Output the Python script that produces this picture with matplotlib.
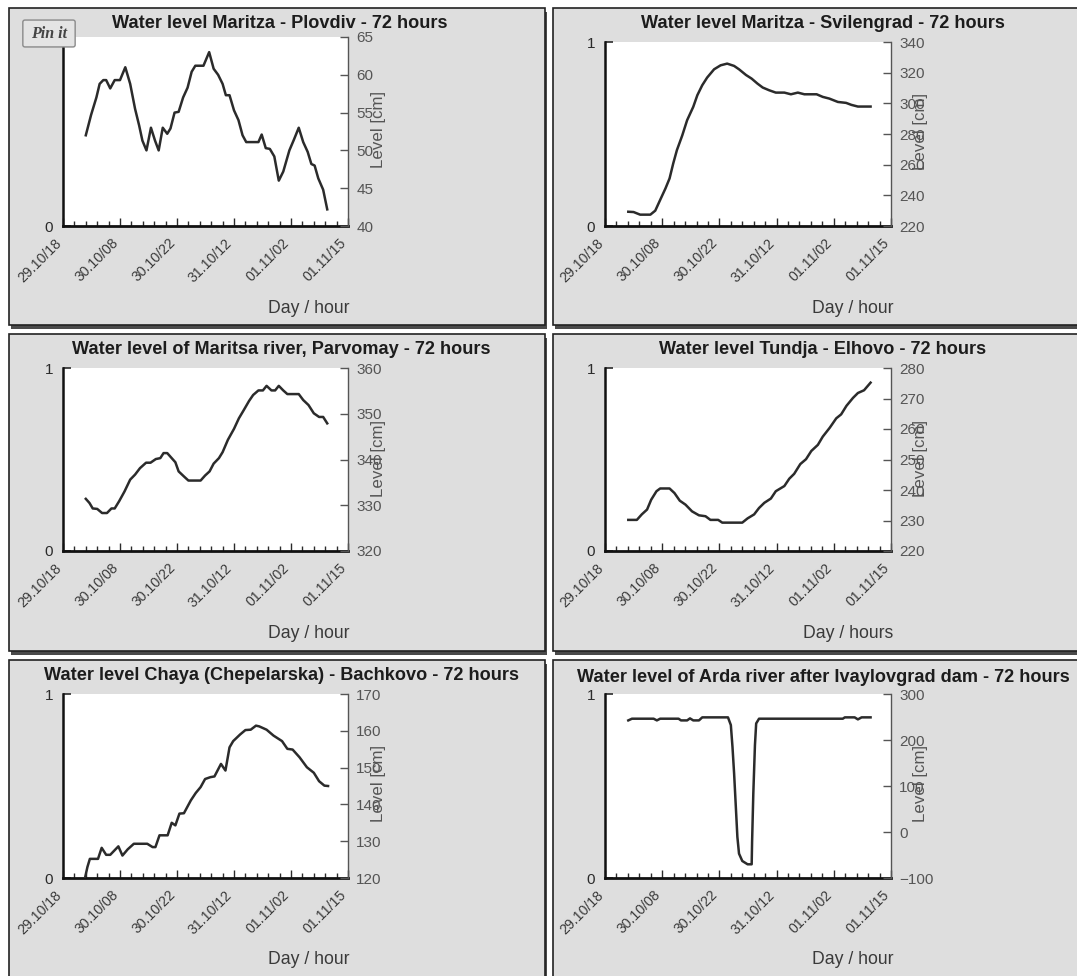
import matplotlib
matplotlib.use("Agg")
import matplotlib.pyplot as plt
from matplotlib.patches import Rectangle, FancyBboxPatch
from matplotlib.ticker import MultipleLocator
from matplotlib.transforms import ScaledTranslation

plt.rcParams['font.family'] = ['Liberation Sans', 'DejaVu Sans']

W = 1077
H = 976

############################################## Data (hours since 29.10/18, level in cm)
plovdiv_h = [5.6, 6.9, 8.2, 9.0, 9.9, 10.6, 11.6, 12.7, 14, 15.3, 16.5, 17.7, 18.7, 19.5, 20.5, 21.6, 22.6, 23.5,
             24.5, 25.6, 26.4, 27.4, 28.4, 29.5, 30.6, 31.6, 32.5, 34.5, 35.9, 37, 38.1, 39.2, 40, 40.9, 42, 43.1,
             44.1, 45, 48, 48.8, 49.8, 50.8, 51.9, 53, 54.1, 55.6, 56.7, 57.9, 59, 60.1, 61, 61.8, 62.7, 63.9, 64.9]
plovdiv_v = [52, 54.7, 57, 58.8, 59.3, 59.3, 58.2, 59.3, 59.3, 61, 58.8, 55.5, 53.3, 51.3, 50, 53, 51.3, 50,
             53, 52.2, 52.9, 55, 55.1, 57, 58.3, 60.4, 61.2, 61.2, 63, 60.8, 60, 58.8, 57.3, 57.3, 55.3, 54,
             52, 51.1, 51.1, 52.1, 50.3, 50.2, 49.2, 46, 47.2, 50, 51.4, 53, 51.1, 49.8, 48.2, 48, 46.3, 44.8, 42.2]

svilengrad_h = [5.7, 7, 8.6, 11.1, 12.3, 13.5, 14.8, 15.8, 16.7, 17.6, 18.9, 20.1, 21.6, 22.6, 23.8, 25, 26.7, 28.3,
                29.9, 31.6, 32.8, 34.5, 35.9, 37.3, 38.6, 40.2, 41.8, 43.9, 45.5, 47.2, 48.8, 51.8, 53.3, 54.9, 57,
                59, 60.3, 61.9, 65]
svilengrad_v = [229.3, 229.1, 227.4, 227.4, 230, 237, 244.5, 251, 260.8, 269.5, 279, 289, 297.7, 305.3, 311.8, 316.8,
                322.2, 324.8, 325.9, 324.4, 322.2, 318.5, 316.1, 312.9, 310.3, 308.5, 307, 307, 305.9, 307, 305.9,
                305.9, 304.2, 303.1, 300.9, 300.3, 299, 297.9, 297.9]

parvomay_h = [5.6, 6.5, 7.3, 8.4, 9.6, 10.8, 11.9, 12.7, 13.8, 15.1, 16.5, 17.7, 18.9, 20.4, 21.5, 22.8, 23.9, 24.7,
              25.6, 26.7, 27.6, 28.4, 29.7, 30.8, 33.8, 34.9, 36, 37, 38.3, 39.2, 40.5, 42, 43.2, 44.4, 45.7, 46.7,
              48, 49.1, 50, 51.2, 52.1, 53, 54.1, 55.1, 57.9, 59, 60.3, 61.6, 62.9, 63.9, 64.9]
parvomay_v = [331.4, 330.5, 329.3, 329.2, 328.3, 328.3, 329.3, 329.3, 330.9, 333, 335.6, 336.7, 338.1, 339.3, 339.3,
              340.1, 340.3, 341.4, 341.4, 340.3, 339.4, 337.4, 336.3, 335.4, 335.4, 336.5, 337.4, 339.1, 340.3, 341.6,
              344.3, 346.7, 349, 350.8, 352.8, 354.1, 355.1, 355.1, 356.1, 355.1, 355.1, 356.1, 355.1, 354.3, 354.3,
              353, 351.9, 350.1, 349.3, 349.3, 347.9]

elhovo_h = [5.7, 7.8, 9, 10.3, 11.3, 12.6, 13.5, 15.8, 17, 18.3, 19.7, 21.3, 23, 24.6, 25.8, 27.7, 28.7, 33.6, 34.9,
            36.5, 37.7, 39, 40.6, 41.8, 43.9, 45.1, 46.3, 47.8, 49.2, 50.5, 52.1, 53.3, 55, 56.6, 57.8, 59.1, 60.7,
            61.9, 63.4, 65]
elhovo_v = [230.2, 230.2, 232, 233.6, 236.8, 239.6, 240.5, 240.5, 239, 236.5, 235.2, 233, 231.7, 231.4, 230.2, 230.2,
            229.3, 229.3, 230.7, 232, 234.1, 235.8, 237.2, 239.6, 241.3, 243.7, 245.3, 248.5, 250.1, 252.8, 254.8,
            257.5, 260.4, 263.5, 264.8, 267.6, 270.2, 271.8, 272.7, 275.2]

bachkovo_h = [5.5, 6, 6.6, 8.6, 9.5, 10.6, 11.6, 13.6, 14.6, 15.9, 17.4, 20.7, 22, 22.7, 23.7, 25.7, 26.7, 27.6, 28.6,
              29.7, 31.4, 32.6, 33.8, 34.9, 36.2, 37.2, 38.8, 39.9, 40.9, 41.8, 43.5, 44.8, 46.1, 47.4, 48.2, 50,
              51.7, 53.8, 55.1, 56.4, 58.1, 59.9, 61.6, 62.9, 64.2, 65.1]
bachkovo_v = [120.5, 123, 125.2, 125.2, 128.2, 126.3, 126.3, 128.6, 126.1, 127.8, 129.3, 129.3, 128.4, 128.4, 131.6,
              131.6, 135, 134.3, 137.5, 137.6, 141.1, 143.1, 144.7, 146.9, 147.4, 147.6, 151, 149.2, 155.5, 157.2,
              159, 160.2, 160.3, 161.4, 161.2, 160.3, 158.7, 157.2, 155.1, 154.9, 152.8, 150.1, 148.6, 146.3, 145.1, 145]

arda_h = [5.7, 6.6, 11.9, 12.7, 13.5, 18, 18.6, 20.1, 20.8, 21.6, 23, 23.8, 30.1, 30.8, 31.2, 31.6, 32, 32.4, 32.8,
          33.6, 34.9, 35.9, 36, 36.3, 36.7, 37, 37.7, 58.2, 58.7, 61.1, 61.9, 62.8, 65]
arda_v = [242.6, 246.3, 246.3, 242.6, 246.3, 246.3, 242.6, 242.6, 247, 242.6, 242.6, 249.2, 249.2, 232.5, 185.3, 127.2,
          58.3, -10.7, -47, -63, -70.2, -70.2, -21.6, 83.7, 188.9, 236, 246.3, 246.3, 249.2, 249.2, 244.8, 249.2, 249.2]

titles = ['Water level Maritza - Plovdiv - 72 hours', 'Water level Maritza - Svilengrad - 72 hours',
          'Water level of Maritsa river, Parvomay - 72 hours', 'Water level Tundja - Elhovo - 72 hours',
          'Water level Chaya (Chepelarska) - Bachkovo - 72 hours',
          'Water level of Arda river after Ivaylovgrad dam - 72 hours']
xlabels = ['Day / hour', 'Day / hour', 'Day / hour', 'Day / hours', 'Day / hour', 'Day / hour']
hours = [plovdiv_h, svilengrad_h, parvomay_h, elhovo_h, bachkovo_h, arda_h]
levels = [plovdiv_v, svilengrad_v, parvomay_v, elhovo_v, bachkovo_v, arda_v]
level_ticks = [[40, 45, 50, 55, 60, 65], [220, 240, 260, 280, 300, 320, 340], [320, 330, 340, 350, 360],
               [220, 230, 240, 250, 260, 270, 280], [120, 130, 140, 150, 160, 170], [-100, 0, 100, 200, 300]]
time_ticks = [0, 14, 28, 42, 56, 70]
time_labels = ['29.10/18', '30.10/08', '30.10/22', '31.10/12', '01.11/02', '01.11/15']

############################################## Layout in pixels of the picture
# frame: left, top, right, bottom
frames = [(9, 8, 545, 325), (553, 8, 1090, 325), (9, 334, 545, 651),
          (553, 334, 1090, 651), (9, 660, 545, 990), (553, 660, 1090, 990)]
# plot area: left, top, right, bottom
areas = [(63, 37, 348, 226), (605, 42, 891, 226), (63, 368, 348, 551),
         (605, 368, 891, 551), (63, 694, 348, 878), (605, 694, 891, 878)]
title_x = [280, 823, 281, 823, 281, 823]
title_y = [23, 23, 350, 350, 676, 677]
xlabel_y = [308, 308, 634, 634, 960, 960]
level_x = [378, 921, 378, 921, 378, 921]
level_y = [129, 131, 458, 458, 783, 783]
dark = '#2b2b2b'
gray = '#555555'


def fx(x):
    return x / W


def fy(y):
    return 1 - y / H


fig = plt.figure(figsize=(W / 100, H / 100), dpi=100, facecolor='white')
# the rotated date labels sit a little left of and below their ticks
label_shift = ScaledTranslation(-9 / 100, -3 / 100, fig.dpi_scale_trans)

for i in range(6):
    l, t, r, b = frames[i]
    # shadow, then the gray box
    fig.add_artist(Rectangle((fx(l + 2), fy(b + 4)), (r - l) / W, (b - t) / H, transform=fig.transFigure,
                             facecolor='#4a4a4a', edgecolor='none', zorder=-3))
    fig.add_artist(Rectangle((fx(l), fy(b)), (r - l) / W, (b - t) / H, transform=fig.transFigure,
                             facecolor='#dedede', edgecolor='#222222', linewidth=1.2, zorder=-2))

    al, at, ar, ab = areas[i]
    ax = fig.add_axes([fx(al), fy(ab), (ar - al) / W, (ab - at) / H], facecolor='white')
    ax.set_xlim(0, 70)
    ax.set_ylim(0, 1)
    ax.set_yticks([0, 1])
    ax.set_yticklabels(['0', '1'], fontsize=11, color=dark)
    ax.tick_params(axis='y', direction='in', length=6, width=1.2, pad=7, color=dark)
    ax.xaxis.set_major_locator(MultipleLocator(14))
    ax.xaxis.set_minor_locator(MultipleLocator(2.8))
    ax.set_xticks(time_ticks)
    ax.set_xticklabels(time_labels, fontsize=10.2, color='#3a3a3a', rotation=45, ha='right', rotation_mode='anchor')
    ax.tick_params(axis='x', which='major', direction='in', length=6, width=1.0, pad=5, color=dark)
    ax.tick_params(axis='x', which='minor', direction='in', length=3.5, width=1.0, color=dark)
    # tick_params resets the label transform, so shift after it
    for lab in ax.get_xticklabels():
        lab.set_transform(lab.get_transform() + label_shift)
    ax.spines['top'].set_visible(False)
    ax.spines['right'].set_visible(False)
    ax.spines['left'].set_linewidth(1.8)
    ax.spines['left'].set_color('#111111')
    ax.spines['bottom'].set_linewidth(2.0)
    ax.spines['bottom'].set_color('#111111')

    tw = ax.twinx()
    tw.set_xlim(0, 70)
    tw.set_ylim(level_ticks[i][0], level_ticks[i][-1])
    tw.set_yticks(level_ticks[i])
    tw.set_yticklabels([str(v).replace('-', '\u2212') for v in level_ticks[i]], fontsize=11, color=gray)
    tw.tick_params(axis='y', direction='in', length=6, width=1.0, pad=6, color=gray)
    for s in ['top', 'left', 'bottom']:
        tw.spines[s].set_visible(False)
    tw.spines['right'].set_color(gray)
    tw.spines['right'].set_linewidth(1.0)
    tw.plot(hours[i], levels[i], color=dark, linewidth=1.8, solid_joinstyle='round')

    fig.text(fx(title_x[i]), fy(title_y[i]), titles[i], fontsize=13.1, fontweight='bold', color='#1c1c1c',
             ha='center', va='center')
    fig.text(fx(ar + 2), fy(xlabel_y[i]), xlabels[i], fontsize=12.7, color='#3a3a3a', ha='right', va='center')
    fig.text(fx(level_x[i]), fy(level_y[i]), 'Level [cm]', fontsize=12.2, color=gray, rotation=90,
             ha='center', va='center')

# Pin it button over the first chart
fig.add_artist(FancyBboxPatch((fx(25), fy(45)), 48 / W, 23 / H, transform=fig.transFigure,
                              boxstyle='round,pad=0.002', facecolor='#e4e4e4', edgecolor='#8a8a8a',
                              linewidth=1.0, zorder=5))
fig.text(fx(49), fy(34), 'Pin it', fontsize=11.5, fontstyle='italic', fontweight='bold', family='Liberation Serif',
         color='#444444', ha='center', va='center', zorder=6)

fig.savefig('out.png', dpi=100)
